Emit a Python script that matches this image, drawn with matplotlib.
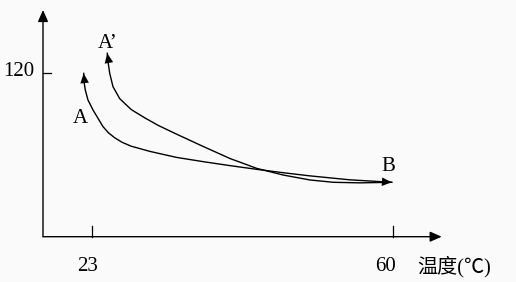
import matplotlib.pyplot as plt

# curve A (temperature, value)
a_x = [21.94, 21.98, 22.14, 22.47, 23.09, 24.32, 24.99, 25.75, 26.65, 27.79, 30.09, 33.37,
       36.64, 39.93, 43.21, 46.48, 49.76, 54.68, 59.80]
a_y = [119.5, 113.4, 107.3, 100.0, 92.7, 80.5, 76.0, 72.4, 69.1, 66.2, 62.4, 58.0,
       54.9, 52.0, 49.3, 46.8, 44.5, 41.6, 39.8]

# curve A'
a2_x = [24.84, 24.93, 25.14, 25.54, 26.37, 27.79, 29.44, 31.08, 33.37, 36.64,
        39.93, 43.21, 46.48, 49.76, 52.63, 55.91, 59.80]
a2_y = [134.2, 128.0, 119.6, 109.8, 101.0, 93.0, 87.0, 81.5, 75.0, 66.0,
        57.2, 50.0, 45.1, 41.5, 39.8, 39.4, 39.8]

x_ticks = [23, 60]
y_ticks = [120]
x_label = '温度(℃)'

serif = 'Liberation Serif'

fig = plt.figure(figsize=(5.16, 2.82), dpi=100, facecolor='#fafafa')
ax = fig.add_axes([0, 0, 1, 1])
ax.set_facecolor('#fafafa')
ax.set_xlim(11.654, 75.085)
ax.set_ylim(-33.15, 173.19)
ax.axis('off')

head = dict(arrowstyle='-|>,head_length=0.5,head_width=0.22', color='black',
            lw=1.0, mutation_scale=14, shrinkA=0, shrinkB=0)

# axes with arrows
x_origin = 16.94
ax.annotate('', xy=(x_origin, 165.9), xytext=(x_origin, 0), arrowprops=head)
ax.annotate('', xy=(65.95, 0), xytext=(x_origin, 0), arrowprops=head)
for t in x_ticks:
    ax.plot([t, t], [0, 7.8], color='black', lw=0.9)
for t in y_ticks:
    ax.plot([x_origin, x_origin + 1.03], [t, t], color='black', lw=0.9)

# the two curves
ax.plot(a_x, a_y, color='black', lw=1.0, solid_joinstyle='round')
ax.plot(a2_x, a2_y, color='black', lw=1.0, solid_joinstyle='round')

# arrow heads at the start of A, A' and at B
ax.annotate('', xy=(a_x[0], a_y[0]), xytext=(a_x[2], a_y[2]), arrowprops=dict(head, lw=0.01))
ax.annotate('', xy=(a2_x[0], a2_y[0]), xytext=(a2_x[3], a2_y[3]), arrowprops=dict(head, lw=0.01))
ax.annotate('', xy=(a_x[-1], a_y[-1]), xytext=(a_x[-2], a_y[-2]), arrowprops=dict(head, lw=0.01))

# labels
ax.text(15.83, 121.2, '120', family=serif, fontsize=15, ha='right', va='center')
ax.text(22.41, -22, '23', family=serif, fontsize=15, ha='center', va='center')
ax.text(59.1, -22, '60', family=serif, fontsize=15, ha='center', va='center')
ax.text(63.0, -22, x_label, family=[serif, 'Noto Sans CJK SC'], fontsize=14.5, ha='left', va='center')

ax.text(23.70, 141.0, 'A’', family=serif, fontsize=15, ha='left', va='center')
ax.text(21.55, 86.5, 'A', family=serif, fontsize=15, ha='center', va='center')
ax.text(59.41, 51.0, 'B', family=serif, fontsize=15, ha='center', va='center')

fig.savefig('out.png', dpi=100, facecolor=fig.get_facecolor())
